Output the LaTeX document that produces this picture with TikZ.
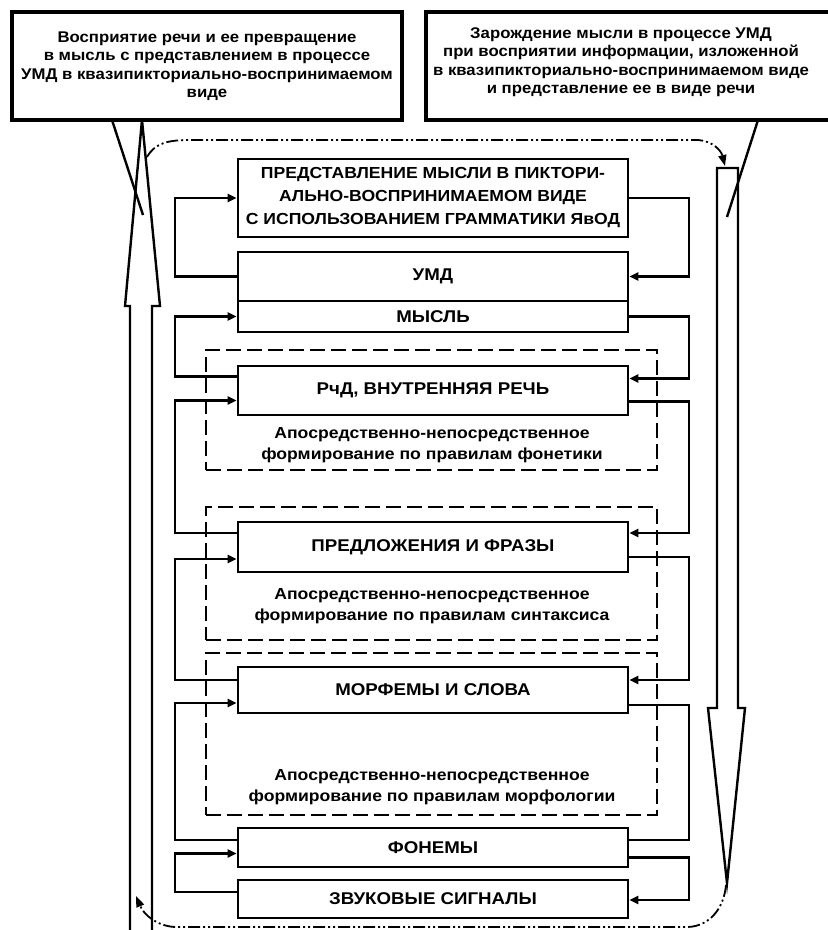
\documentclass[tikz,border=0pt]{standalone}
\usepackage{fontspec}
\setmainfont{Liberation Sans}
\newfontfamily\wideA{Liberation Sans}[FakeStretch=1.08]
\newfontfamily\wideB{Liberation Sans}[FakeStretch=1.1]
\usetikzlibrary{arrows.meta,calc}
\begin{document}
\begin{tikzpicture}[x=1pt,y=-1pt,
 toptxt/.style={inner sep=0pt,align=center,font=\wideA\bfseries\fontsize{15.5}{18.5}\selectfont},
 topframe/.style={line width=3.5pt},
 mainbox/.style={draw,line width=2.8pt,inner sep=0pt,minimum width=390pt,align=center,font=\wideB\bfseries\fontsize{17}{23}\selectfont},
 dbox/.style={draw,line width=2pt,dash pattern=on 15pt off 6pt,inner sep=0pt,minimum width=451pt},
 notetxt/.style={inner sep=0pt,align=center,font=\wideB\bfseries\fontsize{16}{21}\selectfont},
 conn/.style={line width=2.6pt},
 arr/.style={conn,-{Triangle[length=9pt,width=8pt]}},
 hollow/.style={line width=2.4pt,line join=miter},
 ddloop/.style={line width=1.8pt,dash pattern=on 12pt off 3pt on 2pt off 3pt on 2pt off 3pt},
 ddloopend/.style={ddloop,-{Triangle[length=11pt,width=8pt]}},
]
\useasboundingbox (0,0) rectangle (828,930);

% top boxes
\node[toptxt,draw,topframe,minimum width=390pt,minimum height=108pt] (tl) at (207,66)
 {Восприятие речи и ее превращение\\в мысль с представлением в процессе\\УМД в квазипикториально-воспринимаемом\\виде};
\node[toptxt] (tr) at (621,62)
 {Зарождение мысли в процессе УМД\\при восприятии информации, изложенной\\в квазипикториально-воспринимаемом виде\\и представление ее в виде речи};
\draw[topframe] (426,12) rectangle (836,120);

% hollow arrows
\coordinate (ltip) at (142,120);
\coordinate (rtip) at (727,883);
\draw[hollow] (130,940) -- (130,306) -- (125,306) -- (ltip) -- (160,306) -- (152,306) -- (152,940);
\draw[hollow] (717,168) -- (738,168) -- (738,708) -- (745,708) -- (rtip) -- (708,708) -- (717,708) -- cycle;

% crossing lines
\coordinate (xl1) at (112,120);
\coordinate (xl2) at (143,215);
\coordinate (xr1) at (758,120);
\coordinate (xr2) at (727,217);
\draw[line width=2.4pt] (xl1) -- (xl2);
\draw[line width=2.4pt] (xr1) -- (xr2);

% dash-dot loop
\coordinate (lp1) at (147,157);
\coordinate (lp2) at (725,166);
\coordinate (lp3) at (726,885);
\coordinate (lp4) at (136,896);
\draw[ddloopend] (lp1) .. controls (155,143) and (168,140) .. (190,140) -- (698,140) .. controls (712,141) and (721,150) .. (lp2);
\draw[ddloopend] (lp3) .. controls (724,908) and (710,926) .. (688,927) -- (175,927) .. controls (157,926) and (144,915) .. (lp4);

% dashed frames
\node[dbox,minimum height=120pt] (d1) at (431.5,410) {};
\node[dbox,minimum height=133pt] (d2) at (431.5,573.5) {};
\node[dbox,minimum height=162pt] (d3) at (431.5,734) {};

\node[notetxt] (n1) at (432,445) {Апосредственно-непосредственное\\формирование по правилам фонетики};
\node[notetxt] (n2) at (432,606) {Апосредственно-непосредственное\\формирование по правилам синтаксиса};
\node[notetxt] (n3) at (432,787.5) {Апосредственно-непосредственное\\формирование по правилам морфологии};

% main boxes
\node[mainbox,minimum height=78pt,font=\wideB\bfseries\fontsize{16}{23}\selectfont] (b1) at (433,198) {ПРЕДСТАВЛЕНИЕ МЫСЛИ В ПИКТОРИ-\\АЛЬНО-ВОСПРИНИМАЕМОМ ВИДЕ\\С ИСПОЛЬЗОВАНИЕМ ГРАММАТИКИ ЯвОД};
\node[mainbox,minimum height=49pt] (umd) at (433,276.5) {УМД};
\node[mainbox,minimum height=31pt] (mysl) at (433,316.5) {МЫСЛЬ};
\node[mainbox,minimum height=49pt] (rchd) at (433,390.5) {РчД, ВНУТРЕННЯЯ РЕЧЬ};
\node[mainbox,minimum height=50pt] (pred) at (433,547) {ПРЕДЛОЖЕНИЯ И ФРАЗЫ};
\node[mainbox,minimum height=46pt] (morf) at (433,690) {МОРФЕМЫ И СЛОВА};
\node[mainbox,minimum height=39pt] (fon) at (433,847.5) {ФОНЕМЫ};
\node[mainbox,minimum height=38pt] (zvuk) at (433,899) {ЗВУКОВЫЕ СИГНАЛЫ};

% connector rails
\coordinate (L) at (175,0);
\coordinate (R) at (689,0);

% 1-2
\draw[arr] (umd.west) -- (umd.west -| L) |- (b1.west);
\draw[arr] (b1.east) -- (b1.east -| R) |- (umd.east);
% 3-4
\coordinate (rchdLU) at ($(rchd.west)+(0,-14)$);
\coordinate (rchdRU) at ($(rchd.east)+(0,-12)$);
\coordinate (rchdLD) at ($(rchd.west)+(0,10)$);
\coordinate (rchdRD) at ($(rchd.east)+(0,11)$);
\draw[arr] (rchdLU) -- (rchdLU -| L) |- (mysl.west);
\draw[arr] (mysl.east) -- (mysl.east -| R) |- (rchdRU);
% 5-6
\coordinate (predLU) at ($(pred.west)+(0,-14)$);
\coordinate (predRU) at ($(pred.east)+(0,-14)$);
\coordinate (predLD) at ($(pred.west)+(0,12)$);
\coordinate (predRD) at ($(pred.east)+(0,10)$);
\draw[arr] (predLU) -- (predLU -| L) |- (rchdLD);
\draw[arr] (rchdRD) -- (rchdRD -| R) |- (predRU);
% 7-8
\coordinate (morfLU) at ($(morf.west)+(0,-10)$);
\coordinate (morfRU) at ($(morf.east)+(0,-10)$);
\coordinate (morfLD) at ($(morf.west)+(0,13)$);
\coordinate (morfRD) at ($(morf.east)+(0,15)$);
\draw[arr] (morfLU) -- (morfLU -| L) |- (predLD);
\draw[arr] (predRD) -- (predRD -| R) |- (morfRU);
% 9-10
\coordinate (fonLU) at ($(fon.west)+(0,-7.5)$);
\coordinate (fonRU) at ($(fon.east)+(0,-7.5)$);
\coordinate (fonLD) at ($(fon.west)+(0,6)$);
\coordinate (fonRD) at ($(fon.east)+(0,10)$);
\draw[arr] (fonLU) -- (fonLU -| L) |- (morfLD);
\draw[conn] (morfRD) -- (morfRD -| R) |- (fonRU);
% 11-12
\coordinate (zvukLU) at ($(zvuk.west)+(0,-7)$);
\coordinate (zvukRD) at ($(zvuk.east)+(0,1)$);
\draw[arr] (zvukLU) -- (zvukLU -| L) |- (fonLD);
\draw[arr] (fonRD) -- (fonRD -| R) |- (zvukRD);
\end{tikzpicture}
\end{document}
